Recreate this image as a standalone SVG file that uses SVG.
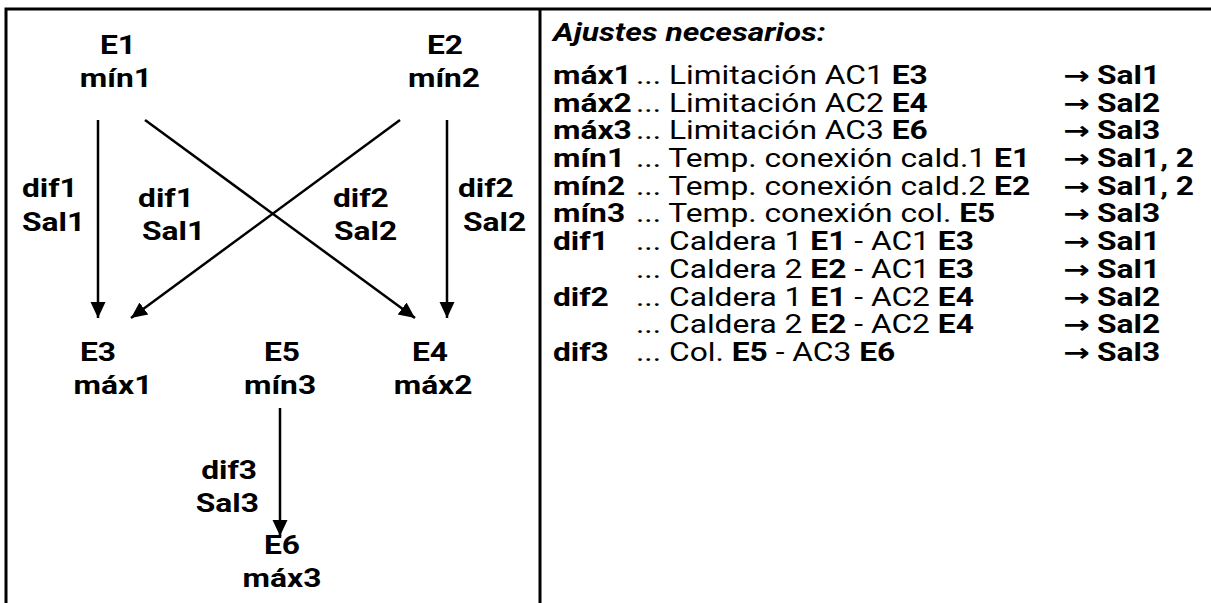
<svg xmlns="http://www.w3.org/2000/svg" width="1211" height="603" viewBox="0 0 1211 603">
<style>
.d{font-family:Roboto,'Liberation Sans',sans-serif;font-weight:bold;font-size:25px;fill:#000}
.m{text-anchor:middle}
.t{font-family:Roboto,'Liberation Sans',sans-serif;font-size:25px;fill:#000}
.b{font-weight:bold}
.ar{font-family:'DejaVu Sans',sans-serif;font-weight:bold;font-size:25px}
.ln{stroke:#000;stroke-width:2.5;fill:none}
.fr{stroke:#000;stroke-width:3;fill:none}
</style>
<defs>
<marker id="ah" markerUnits="userSpaceOnUse" markerWidth="16" markerHeight="18" viewBox="0 0 16 18" refX="16" refY="9" orient="auto">
<path d="M0,1.5 L16,9 L0,16.5 Z" fill="#000"/>
</marker>
</defs>
<g id="frame">
<path class="fr" d="M6,603 V9 H1211 M540,9 V603"/>
</g>
<g id="connectors">
<line class="ln" x1="98" y1="120" x2="98" y2="318" marker-end="url(#ah)"/>
<line class="ln" x1="447" y1="120" x2="447" y2="318" marker-end="url(#ah)"/>
<line class="ln" x1="145" y1="120" x2="415" y2="318" marker-end="url(#ah)"/>
<line class="ln" x1="400" y1="120" x2="131" y2="318" marker-end="url(#ah)"/>
<line class="ln" x1="280" y1="408" x2="280" y2="536" marker-end="url(#ah)"/>
</g>
<g transform="scale(1.27,1)">
<g id="labels" class="d">
<text x="17.3" y="197">dif1</text><text x="17.3" y="231">Sal1</text>
<text x="108.7" y="207">dif1</text><text x="111.8" y="240">Sal1</text>
<text x="262.2" y="207">dif2</text><text x="263" y="240">Sal2</text>
<text x="360.6" y="197">dif2</text><text x="364.6" y="231">Sal2</text>
<text x="202.4" y="479" text-anchor="end">dif3</text><text x="203.9" y="512" text-anchor="end">Sal3</text>
</g>
<g id="E1" class="d m"><text x="92.9" y="54">E1</text><text x="91.3" y="87">mín1</text></g>
<g id="E2" class="d m"><text x="350.4" y="54">E2</text><text x="349.6" y="87">mín2</text></g>
<g id="E3" class="d m"><text x="77.2" y="361">E3</text><text x="89" y="394">máx1</text></g>
<g id="E5" class="d m"><text x="222" y="361">E5</text><text x="220.5" y="394">mín3</text></g>
<g id="E4" class="d m"><text x="338.6" y="361">E4</text><text x="341" y="394">máx2</text></g>
<g id="E6" class="d m"><text x="222" y="554">E6</text><text x="222" y="587">máx3</text></g>
<g id="table" class="t">
<text x="435.4" y="41" class="b" font-style="italic">Ajustes necesarios:</text>
<text x="435.4" y="84" class="b">máx1</text><text x="500.8" y="84">... Limitación AC1 <tspan class="b">E3</tspan></text><text x="837" y="84" class="ar">→</text><text x="863.8" y="84" class="b">Sal1</text>
<text x="435.4" y="112" class="b">máx2</text><text x="500.8" y="112">... Limitación AC2 <tspan class="b">E4</tspan></text><text x="837" y="112" class="ar">→</text><text x="863.8" y="112" class="b">Sal2</text>
<text x="435.4" y="139" class="b">máx3</text><text x="500.8" y="139">... Limitación AC3 <tspan class="b">E6</tspan></text><text x="837" y="139" class="ar">→</text><text x="863.8" y="139" class="b">Sal3</text>
<text x="435.4" y="167" class="b">mín1</text><text x="500.8" y="167">... Temp. conexión cald.1 <tspan class="b">E1</tspan></text><text x="837" y="167" class="ar">→</text><text x="863.8" y="167" class="b">Sal1, 2</text>
<text x="435.4" y="195" class="b">mín2</text><text x="500.8" y="195">... Temp. conexión cald.2 <tspan class="b">E2</tspan></text><text x="837" y="195" class="ar">→</text><text x="863.8" y="195" class="b">Sal1, 2</text>
<text x="435.4" y="222" class="b">mín3</text><text x="500.8" y="222">... Temp. conexión col. <tspan class="b">E5</tspan></text><text x="837" y="222" class="ar">→</text><text x="863.8" y="222" class="b">Sal3</text>
<text x="435.4" y="250" class="b">dif1</text><text x="500.8" y="250">... Caldera 1 <tspan class="b">E1</tspan> - AC1 <tspan class="b">E3</tspan></text><text x="837" y="250" class="ar">→</text><text x="863.8" y="250" class="b">Sal1</text>
<text x="500.8" y="278">... Caldera 2 <tspan class="b">E2</tspan> - AC1 <tspan class="b">E3</tspan></text><text x="837" y="278" class="ar">→</text><text x="863.8" y="278" class="b">Sal1</text>
<text x="435.4" y="306" class="b">dif2</text><text x="500.8" y="306">... Caldera 1 <tspan class="b">E1</tspan> - AC2 <tspan class="b">E4</tspan></text><text x="837" y="306" class="ar">→</text><text x="863.8" y="306" class="b">Sal2</text>
<text x="500.8" y="333">... Caldera 2 <tspan class="b">E2</tspan> - AC2 <tspan class="b">E4</tspan></text><text x="837" y="333" class="ar">→</text><text x="863.8" y="333" class="b">Sal2</text>
<text x="435.4" y="361" class="b">dif3</text><text x="500.8" y="361">... Col. <tspan class="b">E5</tspan> - AC3 <tspan class="b">E6</tspan></text><text x="837" y="361" class="ar">→</text><text x="863.8" y="361" class="b">Sal3</text>
</g>
</g>
</svg>
